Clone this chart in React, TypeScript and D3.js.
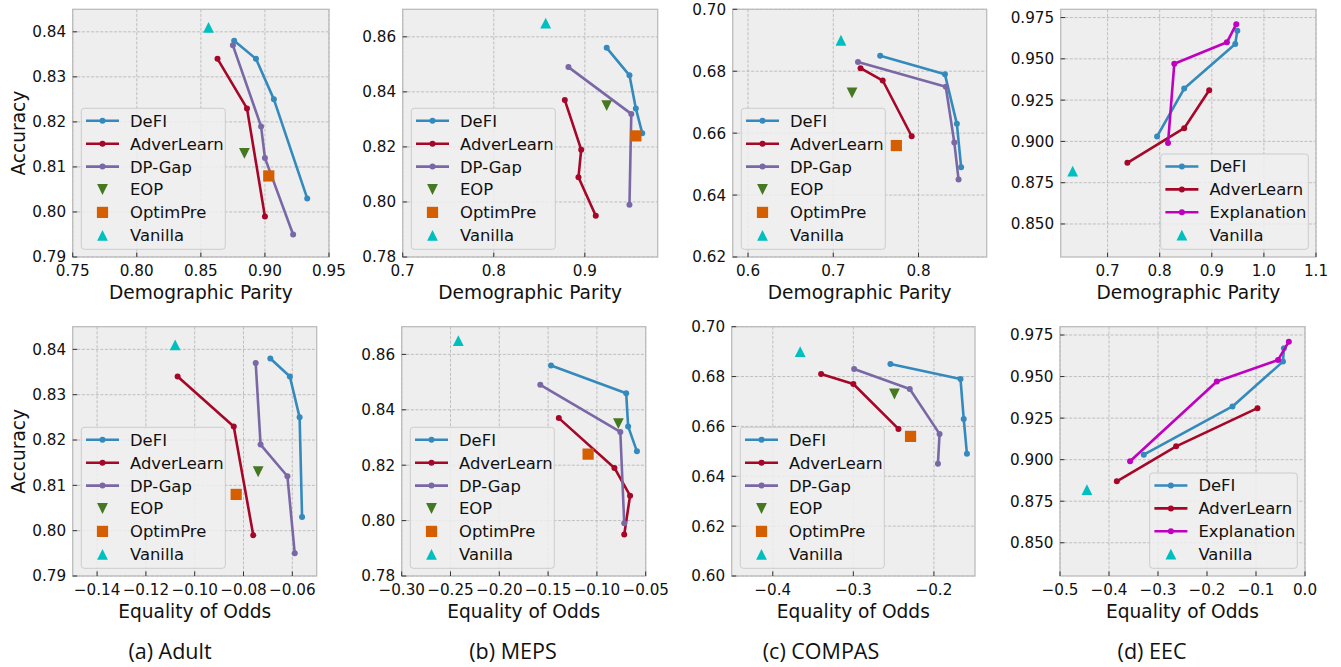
import React from "react";
import * as d3 from "d3";

// ---------- data ----------
// Adult
const adultDefiDP = [0.876, 0.893, 0.907, 0.933];
const adultDefiEO = [-0.069, -0.061, -0.057, -0.056];
const adultDefiAcc = [0.838, 0.834, 0.825, 0.803];
const adultAdvDP = [0.863, 0.886, 0.9];
const adultAdvEO = [-0.107, -0.084, -0.076];
const adultAdvAcc = [0.834, 0.823, 0.799];
const adultGapDP = [0.875, 0.897, 0.9, 0.922];
const adultGapEO = [-0.075, -0.073, -0.062, -0.059];
const adultGapAcc = [0.837, 0.819, 0.812, 0.795];
const adultEop = { dp: 0.884, eo: -0.074, acc: 0.813 };
const adultOpt = { dp: 0.903, eo: -0.083, acc: 0.808 };
const adultVan = { dp: 0.856, eo: -0.108, acc: 0.841 };

// MEPS
const mepsDefiDP = [0.924, 0.949, 0.956, 0.963];
const mepsDefiEO = [-0.147, -0.07, -0.068, -0.059];
const mepsDefiAcc = [0.856, 0.846, 0.834, 0.825];
const mepsAdvDP = [0.878, 0.896, 0.893, 0.912];
const mepsAdvEO = [-0.139, -0.082, -0.066, -0.072];
const mepsAdvAcc = [0.837, 0.819, 0.809, 0.795];
const mepsGapDP = [0.882, 0.951, 0.949];
const mepsGapEO = [-0.158, -0.076, -0.072];
const mepsGapAcc = [0.849, 0.832, 0.799];
const mepsEop = { dp: 0.924, eo: -0.078, acc: 0.835 };
const mepsOpt = { dp: 0.956, eo: -0.109, acc: 0.824 };
const mepsVan = { dp: 0.857, eo: -0.242, acc: 0.865 };

// COMPAS
const compasDefiDP = [0.755, 0.831, 0.845, 0.85];
const compasDefiEO = [-0.254, -0.167, -0.163, -0.159];
const compasDefiAcc = [0.685, 0.679, 0.663, 0.649];
const compasAdvDP = [0.732, 0.758, 0.792];
const compasAdvEO = [-0.34, -0.3, -0.244];
const compasAdvAcc = [0.681, 0.677, 0.659];
const compasGapDP = [0.729, 0.832, 0.842, 0.847];
const compasGapEO = [-0.299, -0.23, -0.193, -0.195];
const compasGapAcc = [0.683, 0.675, 0.657, 0.645];
const compasEop = { dp: 0.722, eo: -0.249, acc: 0.673 };
const compasOpt = { dp: 0.774, eo: -0.229, acc: 0.656 };
const compasVan = { dp: 0.709, eo: -0.366, acc: 0.69 };

// EEC
const eecDefiDP = [0.795, 0.847, 0.945, 0.949];
const eecDefiEO = [-0.329, -0.148, -0.045, -0.043];
const eecDefiAcc = [0.903, 0.932, 0.959, 0.967];
const eecAdvDP = [0.738, 0.847, 0.895];
const eecAdvEO = [-0.384, -0.263, -0.097];
const eecAdvAcc = [0.887, 0.908, 0.931];
const eecExpDP = [0.816, 0.828, 0.929, 0.947];
const eecExpEO = [-0.357, -0.18, -0.055, -0.033];
const eecExpAcc = [0.899, 0.947, 0.96, 0.971];
const eecVan = { dp: 0.633, eo: -0.445, acc: 0.882 };

// tick labels
const adultDPTicks = [0.75, 0.8, 0.85, 0.9, 0.95];
const adultEOTicks = [-0.14, -0.12, -0.1, -0.08, -0.06];
const adultAccTicks = [0.79, 0.8, 0.81, 0.82, 0.83, 0.84];
const mepsDPTicks = [0.7, 0.8, 0.9];
const mepsEOTicks = [-0.3, -0.25, -0.2, -0.15, -0.1, -0.05];
const mepsAccTicks = [0.78, 0.8, 0.82, 0.84, 0.86];
const compasDPTicks = [0.6, 0.7, 0.8];
const compasEOTicks = [-0.4, -0.3, -0.2];
const compasAccTicksTop = [0.62, 0.64, 0.66, 0.68, 0.7];
const compasAccTicksBottom = [0.6, 0.62, 0.64, 0.66, 0.68, 0.7];
const eecDPTicks = [0.7, 0.8, 0.9, 1.0, 1.1];
const eecEOTicks = [-0.5, -0.4, -0.3, -0.2, -0.1, 0.0];
const eecAccTicks = [0.85, 0.875, 0.9, 0.925, 0.95, 0.975];

const captions = ["(a) Adult", "(b) MEPS", "(c) COMPAS", "(d) EEC"];

// ---------- styles ----------
const C = {
  defi: "#348ABD",
  adv: "#A60628",
  gap: "#7A68A6",
  eop: "#467821",
  opt: "#D55E00",
  van: "#00BFBF",
  exp: "#BF00BF",
};
const FONT = "'DejaVu Sans', sans-serif";
const TICK_FS = 15.2;
const LABEL_FS = 18.6;
const LEG_FS = 16.4;

type Kind = "line" | "up" | "down" | "square";
interface Series { name: string; color: string; kind: Kind; xs: number[]; ys: number[]; }
interface PanelSpec {
  left: number; right: number; top: number; bottom: number;
  xDomain: [number, number]; yDomain: [number, number];
  xTicks: number[]; yTicks: number[]; xFmt: string; yFmt: string;
  xLabel: string; yLabel?: string; series: Series[]; legendLoc: "ll" | "lr";
}

function sixSeries(
  defi: [number[], number[]], adv: [number[], number[]], gap: [number[], number[]],
  eop: [number, number], opt: [number, number], van: [number, number]
): Series[] {
  return [
    { name: "DeFI", color: C.defi, kind: "line", xs: defi[0], ys: defi[1] },
    { name: "AdverLearn", color: C.adv, kind: "line", xs: adv[0], ys: adv[1] },
    { name: "DP-Gap", color: C.gap, kind: "line", xs: gap[0], ys: gap[1] },
    { name: "EOP", color: C.eop, kind: "down", xs: [eop[0]], ys: [eop[1]] },
    { name: "OptimPre", color: C.opt, kind: "square", xs: [opt[0]], ys: [opt[1]] },
    { name: "Vanilla", color: C.van, kind: "up", xs: [van[0]], ys: [van[1]] },
  ];
}

const TOP = [9.3, 257];
const BOT = [326.7, 576];

const panels: PanelSpec[] = [
  {
    left: 72.7, right: 329, top: TOP[0], bottom: TOP[1],
    xDomain: [0.75, 0.95], yDomain: [0.79, 0.845], xTicks: adultDPTicks, yTicks: adultAccTicks,
    xFmt: ".2f", yFmt: ".2f", xLabel: "Demographic Parity", yLabel: "Accuracy", legendLoc: "ll",
    series: sixSeries([adultDefiDP, adultDefiAcc], [adultAdvDP, adultAdvAcc], [adultGapDP, adultGapAcc],
      [adultEop.dp, adultEop.acc], [adultOpt.dp, adultOpt.acc], [adultVan.dp, adultVan.acc]),
  },
  {
    left: 402.7, right: 657.7, top: TOP[0], bottom: TOP[1],
    xDomain: [0.7, 0.98], yDomain: [0.78, 0.87], xTicks: mepsDPTicks, yTicks: mepsAccTicks,
    xFmt: ".1f", yFmt: ".2f", xLabel: "Demographic Parity", legendLoc: "ll",
    series: sixSeries([mepsDefiDP, mepsDefiAcc], [mepsAdvDP, mepsAdvAcc], [mepsGapDP, mepsGapAcc],
      [mepsEop.dp, mepsEop.acc], [mepsOpt.dp, mepsOpt.acc], [mepsVan.dp, mepsVan.acc]),
  },
  {
    left: 732.7, right: 986.7, top: TOP[0], bottom: TOP[1],
    xDomain: [0.582, 0.88], yDomain: [0.62, 0.7], xTicks: compasDPTicks, yTicks: compasAccTicksTop,
    xFmt: ".1f", yFmt: ".2f", xLabel: "Demographic Parity", legendLoc: "ll",
    series: sixSeries([compasDefiDP, compasDefiAcc], [compasAdvDP, compasAdvAcc], [compasGapDP, compasGapAcc],
      [compasEop.dp, compasEop.acc], [compasOpt.dp, compasOpt.acc], [compasVan.dp, compasVan.acc]),
  },
  {
    left: 1060.7, right: 1316, top: TOP[0], bottom: TOP[1],
    xDomain: [0.61, 1.1], yDomain: [0.83, 0.98], xTicks: eecDPTicks, yTicks: eecAccTicks,
    xFmt: ".1f", yFmt: ".3f", xLabel: "Demographic Parity", legendLoc: "lr",
    series: [
      { name: "DeFI", color: C.defi, kind: "line", xs: eecDefiDP, ys: eecDefiAcc },
      { name: "AdverLearn", color: C.adv, kind: "line", xs: eecAdvDP, ys: eecAdvAcc },
      { name: "Explanation", color: C.exp, kind: "line", xs: eecExpDP, ys: eecExpAcc },
      { name: "Vanilla", color: C.van, kind: "up", xs: [eecVan.dp], ys: [eecVan.acc] },
    ],
  },
  {
    left: 72.7, right: 316.7, top: BOT[0], bottom: BOT[1],
    xDomain: [-0.15, -0.05], yDomain: [0.79, 0.845], xTicks: adultEOTicks, yTicks: adultAccTicks,
    xFmt: ".2f", yFmt: ".2f", xLabel: "Equality of Odds", yLabel: "Accuracy", legendLoc: "ll",
    series: sixSeries([adultDefiEO, adultDefiAcc], [adultAdvEO, adultAdvAcc], [adultGapEO, adultGapAcc],
      [adultEop.eo, adultEop.acc], [adultOpt.eo, adultOpt.acc], [adultVan.eo, adultVan.acc]),
  },
  {
    left: 401.7, right: 645.7, top: BOT[0], bottom: BOT[1],
    xDomain: [-0.3, -0.05], yDomain: [0.78, 0.87], xTicks: mepsEOTicks, yTicks: mepsAccTicks,
    xFmt: ".2f", yFmt: ".2f", xLabel: "Equality of Odds", legendLoc: "ll",
    series: sixSeries([mepsDefiEO, mepsDefiAcc], [mepsAdvEO, mepsAdvAcc], [mepsGapEO, mepsGapAcc],
      [mepsEop.eo, mepsEop.acc], [mepsOpt.eo, mepsOpt.acc], [mepsVan.eo, mepsVan.acc]),
  },
  {
    left: 731.7, right: 975, top: BOT[0], bottom: BOT[1],
    xDomain: [-0.451, -0.149], yDomain: [0.6, 0.7], xTicks: compasEOTicks, yTicks: compasAccTicksBottom,
    xFmt: ".1f", yFmt: ".2f", xLabel: "Equality of Odds", legendLoc: "ll",
    series: sixSeries([compasDefiEO, compasDefiAcc], [compasAdvEO, compasAdvAcc], [compasGapEO, compasGapAcc],
      [compasEop.eo, compasEop.acc], [compasOpt.eo, compasOpt.acc], [compasVan.eo, compasVan.acc]),
  },
  {
    left: 1060, right: 1305, top: BOT[0], bottom: BOT[1],
    xDomain: [-0.5, 0], yDomain: [0.83, 0.98], xTicks: eecEOTicks, yTicks: eecAccTicks,
    xFmt: ".1f", yFmt: ".3f", xLabel: "Equality of Odds", legendLoc: "lr",
    series: [
      { name: "DeFI", color: C.defi, kind: "line", xs: eecDefiEO, ys: eecDefiAcc },
      { name: "AdverLearn", color: C.adv, kind: "line", xs: eecAdvEO, ys: eecAdvAcc },
      { name: "Explanation", color: C.exp, kind: "line", xs: eecExpEO, ys: eecExpAcc },
      { name: "Vanilla", color: C.van, kind: "up", xs: [eecVan.eo], ys: [eecVan.acc] },
    ],
  },
];

const captionX = [170, 513, 821, 1152];

function Marker({ kind, color, x, y }: { kind: Kind; color: string; x: number; y: number }) {
  const s = 5.4;
  if (kind === "line") return <circle cx={x} cy={y} r={3} fill={color} />;
  if (kind === "square")
    return <rect x={x - 5.6} y={y - 5.6} width={11.2} height={11.2} fill={color} />;
  if (kind === "up")
    return <path d={`M${x},${y - s}L${x + s},${y + s}L${x - s},${y + s}Z`} fill={color} />;
  return <path d={`M${x},${y + s}L${x + s},${y - s}L${x - s},${y - s}Z`} fill={color} />;
}

function Panel({ p }: { p: PanelSpec }) {
  const x = d3.scaleLinear().domain(p.xDomain).range([p.left, p.right]);
  const y = d3.scaleLinear().domain(p.yDomain).range([p.bottom, p.top]);
  const fx = d3.format(p.xFmt);
  const fy = d3.format(p.yFmt);
  const line = d3.line<[number, number]>().x((d) => x(d[0])).y((d) => y(d[1]));
  const n = p.series.length;
  const rowH = 22.9;
  const lw = n === 6 ? 144 : 147.6;
  const lh = n === 6 ? 141 : 95.3;
  const lx = p.legendLoc === "ll" ? p.left + 8.6 : p.right - 7.7 - lw;
  const ly = p.bottom - 7.7 - lh;
  return (
    <g>
      <rect x={p.left} y={p.top} width={p.right - p.left} height={p.bottom - p.top} fill="#eeeeee" />
      {p.xTicks.map((t) => (
        <line key={"gx" + t} x1={x(t)} x2={x(t)} y1={p.top} y2={p.bottom}
          stroke="#b2b2b2" strokeWidth={0.8} strokeDasharray="3,1.6" />
      ))}
      {p.yTicks.map((t) => (
        <line key={"gy" + t} x1={p.left} x2={p.right} y1={y(t)} y2={y(t)}
          stroke="#b2b2b2" strokeWidth={0.8} strokeDasharray="3,1.6" />
      ))}
      {p.series.map((s) =>
        s.kind === "line" ? (
          <g key={s.name}>
            <path d={line(s.xs.map((v, i) => [v, s.ys[i]]) as [number, number][]) || ""}
              fill="none" stroke={s.color} strokeWidth={2.6} strokeLinejoin="round" />
            {s.xs.map((v, i) => (
              <Marker key={i} kind="line" color={s.color} x={x(v)} y={y(s.ys[i])} />
            ))}
          </g>
        ) : (
          <g key={s.name}>
            {s.xs.map((v, i) => (
              <Marker key={i} kind={s.kind} color={s.color} x={x(v)} y={y(s.ys[i])} />
            ))}
          </g>
        )
      )}
      <rect x={p.left} y={p.top} width={p.right - p.left} height={p.bottom - p.top}
        fill="none" stroke="#bcbcbc" strokeWidth={1.3} />
      {p.xTicks.map((t) => (
        <g key={"tx" + t}>
          <line x1={x(t)} x2={x(t)} y1={p.bottom} y2={p.bottom - 4.5} stroke="#333" strokeWidth={1} />
          <text x={x(t)} y={p.bottom + 18.5} textAnchor="middle" fontSize={TICK_FS} fontFamily={FONT} fill="#111">
            {fx(t)}
          </text>
        </g>
      ))}
      {p.yTicks.map((t) => (
        <g key={"ty" + t}>
          <line x1={p.left} x2={p.left + 4.5} y1={y(t)} y2={y(t)} stroke="#333" strokeWidth={1} />
          <text x={p.left - 6.5} y={y(t)} dy="0.36em" textAnchor="end" fontSize={TICK_FS} fontFamily={FONT} fill="#111">
            {fy(t)}
          </text>
        </g>
      ))}
      <text x={(p.left + p.right) / 2} y={p.bottom + 41.5} textAnchor="middle" fontSize={LABEL_FS} fontFamily={FONT} fill="#111">
        {p.xLabel}
      </text>
      {p.yLabel && (
        <text transform={`translate(24.5,${(p.top + p.bottom) / 2}) rotate(-90)`} textAnchor="middle"
          fontSize={LABEL_FS} fontFamily={FONT} fill="#111">
          {p.yLabel}
        </text>
      )}
      <g>
        <rect x={lx} y={ly} width={lw} height={lh} rx={3} fill="#eeeeee" fillOpacity={0.85}
          stroke="#cccccc" strokeWidth={1} />
        {p.series.map((s, i) => {
          const cy = ly + 12.5 + i * rowH;
          return (
            <g key={"lg" + s.name}>
              {s.kind === "line" && (
                <line x1={lx + 4.7} x2={lx + 37.7} y1={cy} y2={cy} stroke={s.color} strokeWidth={2.6} />
              )}
              <Marker kind={s.kind} color={s.color} x={lx + 21.2} y={cy} />
              <text x={lx + 48.7} y={cy} dy="0.36em" fontSize={LEG_FS} fontFamily={FONT} fill="#111">
                {s.name}
              </text>
            </g>
          );
        })}
      </g>
    </g>
  );
}

export default function App() {
  return (
    <svg width={1341} height={667} style={{ position: "absolute", left: 0, top: 0, background: "#fff" }}>
      <rect width={1341} height={667} fill="#fff" />
      {panels.map((p, i) => (
        <Panel key={i} p={p} />
      ))}
      {captions.map((c, i) => (
        <text key={c} x={captionX[i]} y={659} textAnchor="middle" fontSize={21.5} fontFamily="'Open Sans', sans-serif" fill="#111">
          {c}
        </text>
      ))}
    </svg>
  );
}
